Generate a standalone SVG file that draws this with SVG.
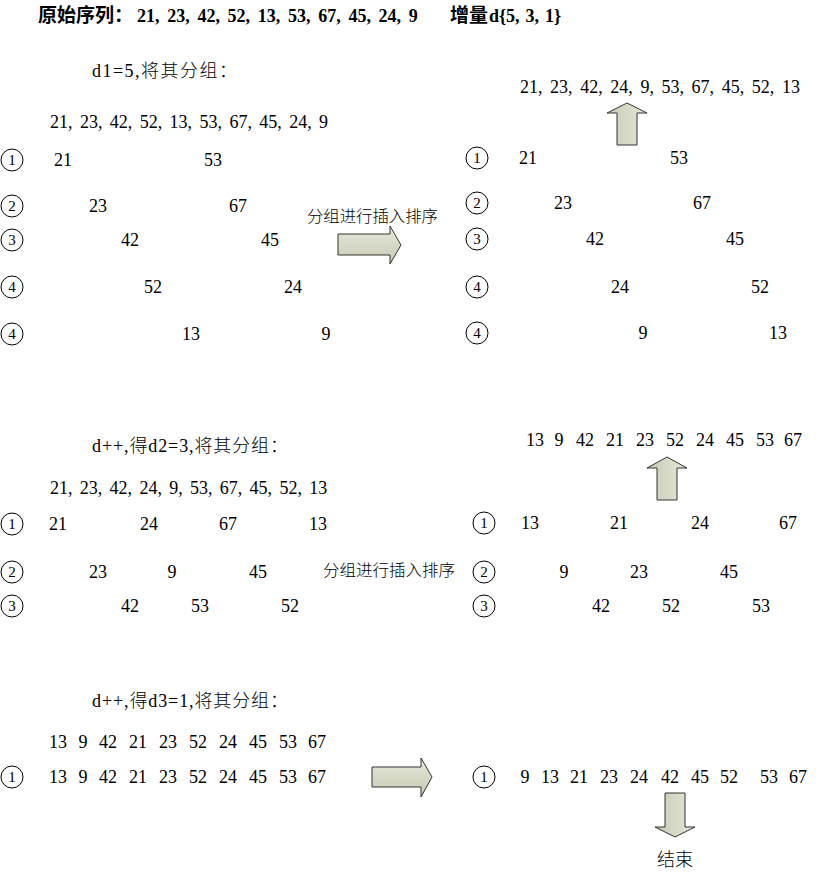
<svg xmlns="http://www.w3.org/2000/svg" width="820" height="882" viewBox="0 0 820 882">
<defs>
<linearGradient id="gh" x1="0" y1="0" x2="0" y2="1">
<stop offset="0" stop-color="#e6e8da"/><stop offset="1" stop-color="#c8cab4"/>
</linearGradient>
<linearGradient id="gv" x1="0" y1="0" x2="1" y2="0">
<stop offset="0" stop-color="#c8cab4"/><stop offset="1" stop-color="#e6e8da"/>
</linearGradient>
<style>
text{font-family:"Liberation Serif","Noto Sans CJK SC",serif;font-size:18px;fill:#000}
.b{font-weight:bold}
.m{text-anchor:middle}
.cjk{font-family:"Noto Sans CJK SC",sans-serif;font-size:16px;font-weight:300}
.zh{font-family:"Noto Sans CJK SC",sans-serif;font-weight:300}
.tz{font-family:"Noto Sans CJK SC",sans-serif;font-size:19px}
circle{fill:none;stroke:#000;stroke-width:1}
.ct{font-size:15px;text-anchor:middle}
.ah{fill:url(#gh);stroke:#333;stroke-width:1}
.av{fill:url(#gv);stroke:#333;stroke-width:1}
</style>
</defs>
<rect width="820" height="882" fill="#fff"/>

<g id="title">
<text class="b" x="38" y="22"><tspan class="tz">原始序列：</tspan><tspan x="137">21,</tspan><tspan dx="7.7">23,</tspan><tspan dx="7.7">42,</tspan><tspan dx="7.7">52,</tspan><tspan dx="7.7">13,</tspan><tspan dx="7.7">53,</tspan><tspan dx="7.7">67,</tspan><tspan dx="7.7">45,</tspan><tspan dx="7.7">24,</tspan><tspan dx="7.7">9</tspan></text>
<text class="b" x="450" y="22"><tspan class="tz">增量</tspan><tspan x="489">d{5,</tspan><tspan dx="6">3,</tspan><tspan dx="6">1}</tspan></text>
</g>

<g id="step1-left">
<text x="92" y="77" textLength="145" lengthAdjust="spacing">d1=5,<tspan class="zh">将其分组：</tspan></text>
<text x="50" y="128">21,<tspan dx="7.4">23,</tspan><tspan dx="7.4">42,</tspan><tspan dx="7.4">52,</tspan><tspan dx="7.4">13,</tspan><tspan dx="7.4">53,</tspan><tspan dx="7.4">67,</tspan><tspan dx="7.4">45,</tspan><tspan dx="7.4">24,</tspan><tspan dx="7.4">9</tspan></text>
<circle cx="12" cy="160" r="11"/><text class="ct" x="12" y="165">1</text>
<text class="m" x="63" y="166">21</text><text class="m" x="213" y="166">53</text>
<circle cx="12" cy="206" r="11"/><text class="ct" x="12" y="211">2</text>
<text class="m" x="98" y="212">23</text><text class="m" x="238" y="212">67</text>
<circle cx="12" cy="240" r="11"/><text class="ct" x="12" y="245">3</text>
<text class="m" x="130" y="246">42</text><text class="m" x="270" y="246">45</text>
<circle cx="12" cy="287" r="11"/><text class="ct" x="12" y="292">4</text>
<text class="m" x="153" y="293">52</text><text class="m" x="293" y="293">24</text>
<circle cx="12" cy="334" r="11"/><text class="ct" x="12" y="339">4</text>
<text class="m" x="191" y="340">13</text><text class="m" x="326" y="340">9</text>
</g>

<g id="step1-label">
<text class="cjk" x="307" y="222" textLength="131" lengthAdjust="spacingAndGlyphs">分组进行插入排序</text>
</g>

<g id="step1-right">
<text x="520" y="93">21,<tspan dx="7.6">23,</tspan><tspan dx="7.6">42,</tspan><tspan dx="7.6">24,</tspan><tspan dx="7.6">9,</tspan><tspan dx="7.6">53,</tspan><tspan dx="7.6">67,</tspan><tspan dx="7.6">45,</tspan><tspan dx="7.6">52,</tspan><tspan dx="7.6">13</tspan></text>
<circle cx="477" cy="158" r="11"/><text class="ct" x="477" y="163">1</text>
<text class="m" x="528" y="164">21</text><text class="m" x="679" y="164">53</text>
<circle cx="477" cy="203" r="11"/><text class="ct" x="477" y="208">2</text>
<text class="m" x="563" y="209">23</text><text class="m" x="702" y="209">67</text>
<circle cx="477" cy="239" r="11"/><text class="ct" x="477" y="244">3</text>
<text class="m" x="595" y="245">42</text><text class="m" x="735" y="245">45</text>
<circle cx="477" cy="287" r="11"/><text class="ct" x="477" y="292">4</text>
<text class="m" x="620" y="293">24</text><text class="m" x="760" y="293">52</text>
<circle cx="477" cy="333" r="11"/><text class="ct" x="477" y="338">4</text>
<text class="m" x="643" y="339">9</text><text class="m" x="778" y="339">13</text>
</g>

<g id="step2-left">
<text x="92" y="452" textLength="196" lengthAdjust="spacing">d++,<tspan class="zh">得</tspan>d2=3,<tspan class="zh">将其分组：</tspan></text>
<text x="50" y="494">21,<tspan dx="7.3">23,</tspan><tspan dx="7.3">42,</tspan><tspan dx="7.3">24,</tspan><tspan dx="7.3">9,</tspan><tspan dx="7.3">53,</tspan><tspan dx="7.3">67,</tspan><tspan dx="7.3">45,</tspan><tspan dx="7.3">52,</tspan><tspan dx="7.3">13</tspan></text>
<circle cx="12" cy="524" r="11"/><text class="ct" x="12" y="529">1</text>
<text class="m" x="58" y="530">21</text><text class="m" x="149" y="530">24</text><text class="m" x="228" y="530">67</text><text class="m" x="318" y="530">13</text>
<circle cx="12" cy="572" r="11"/><text class="ct" x="12" y="577">2</text>
<text class="m" x="98" y="578">23</text><text class="m" x="172" y="578">9</text><text class="m" x="258" y="578">45</text>
<circle cx="12" cy="606" r="11"/><text class="ct" x="12" y="611">3</text>
<text class="m" x="130" y="612">42</text><text class="m" x="200" y="612">53</text><text class="m" x="290" y="612">52</text>
</g>

<g id="step2-label">
<text class="cjk" x="323" y="576" textLength="132" lengthAdjust="spacingAndGlyphs">分组进行插入排序</text>
</g>

<g id="step2-right">
<text class="m" x="535" y="446">13</text><text class="m" x="559" y="446">9</text><text class="m" x="585" y="446">42</text><text class="m" x="615" y="446">21</text><text class="m" x="645" y="446">23</text><text class="m" x="675" y="446">52</text><text class="m" x="705" y="446">24</text><text class="m" x="735" y="446">45</text><text class="m" x="765" y="446">53</text><text class="m" x="793" y="446">67</text>
<circle cx="484" cy="523" r="11"/><text class="ct" x="484" y="528">1</text>
<text class="m" x="530" y="529">13</text><text class="m" x="619" y="529">21</text><text class="m" x="700" y="529">24</text><text class="m" x="788" y="529">67</text>
<circle cx="484" cy="572" r="11"/><text class="ct" x="484" y="577">2</text>
<text class="m" x="564" y="578">9</text><text class="m" x="639" y="578">23</text><text class="m" x="729" y="578">45</text>
<circle cx="484" cy="606" r="11"/><text class="ct" x="484" y="611">3</text>
<text class="m" x="601" y="612">42</text><text class="m" x="671" y="612">52</text><text class="m" x="761" y="612">53</text>
</g>

<g id="step3-left">
<text x="92" y="707" textLength="196" lengthAdjust="spacing">d++,<tspan class="zh">得</tspan>d3=1,<tspan class="zh">将其分组：</tspan></text>
<text class="m" x="58" y="748">13</text><text class="m" x="83" y="748">9</text><text class="m" x="108" y="748">42</text><text class="m" x="138" y="748">21</text><text class="m" x="168" y="748">23</text><text class="m" x="198" y="748">52</text><text class="m" x="228" y="748">24</text><text class="m" x="258" y="748">45</text><text class="m" x="288" y="748">53</text><text class="m" x="317" y="748">67</text>
<circle cx="12" cy="777" r="11"/><text class="ct" x="12" y="782">1</text>
<text class="m" x="58" y="783">13</text><text class="m" x="83" y="783">9</text><text class="m" x="108" y="783">42</text><text class="m" x="138" y="783">21</text><text class="m" x="168" y="783">23</text><text class="m" x="198" y="783">52</text><text class="m" x="228" y="783">24</text><text class="m" x="258" y="783">45</text><text class="m" x="288" y="783">53</text><text class="m" x="317" y="783">67</text>
</g>

<g id="step3-right">
<circle cx="484" cy="777" r="11"/><text class="ct" x="484" y="782">1</text>
<text class="m" x="525" y="783">9</text><text class="m" x="550" y="783">13</text><text class="m" x="579" y="783">21</text><text class="m" x="609" y="783">23</text><text class="m" x="639" y="783">24</text><text class="m" x="670" y="783">42</text><text class="m" x="700" y="783">45</text><text class="m" x="729" y="783">52</text><text class="m" x="769" y="783">53</text><text class="m" x="798" y="783">67</text>
</g>

<g id="end">
<text class="cjk m" x="675" y="866" style="font-size:18px">结束</text>
</g>

<g id="connectors">
<polygon class="ah" points="338,234 390,234 390,226 401,245 390,264 390,255 338,255"/>
<polygon class="av" points="627,103 647,113 637,113 637,145 617,145 617,113 607,113"/>
<polygon class="av" points="667,457 687,468 677,468 677,500 657,500 657,468 647,468"/>
<polygon class="ah" points="372,767 421,767 421,758 432,777 421,797 421,787 372,787"/>
<polygon class="av" points="665,793 685,793 685,827 695,827 675,837 655,827 665,827"/>
</g>
</svg>
